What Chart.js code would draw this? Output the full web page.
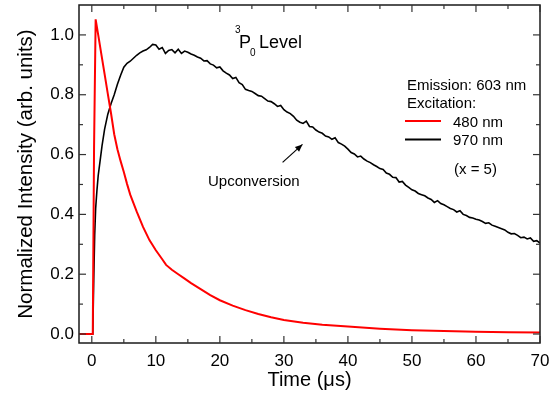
<!DOCTYPE html>
<html><head><meta charset="utf-8">
<script src="https://cdn.jsdelivr.net/npm/chart.js@4.4.1/dist/chart.umd.min.js"></script>
<style>html,body{margin:0;padding:0;background:#fff}#wrap{width:559px;height:398px}</style>
</head><body><div id="wrap"><canvas id="c" width="559" height="398"></canvas></div>
<script>
const FONT = '"Liberation Sans", Arial, Helvetica, sans-serif';
const seriesNames = ['480 nm', '970 nm'];
const seriesColors = ['#ff0000', '#000000'];
const time480 = [-2, 0.15, 0.35, 0.6, 1.0, 1.5, 2.0, 2.5, 3.0, 3.5, 4.0, 4.5, 5.0, 5.5, 6.0, 7.0, 8.0, 9.0, 10.0, 11.0, 11.6, 12.5, 13.5, 14.5, 15.5, 17, 18.5, 20, 22, 24, 26, 28, 30, 33, 36, 40, 45, 50, 55, 60, 65, 70];
const int480 = [0, 0, 0.62, 1.052, 1.0, 0.934, 0.869, 0.803, 0.738, 0.668, 0.618, 0.578, 0.542, 0.502, 0.466, 0.41, 0.358, 0.314, 0.28, 0.25, 0.231, 0.215, 0.2, 0.185, 0.17, 0.15, 0.13, 0.113, 0.095, 0.08, 0.067, 0.056, 0.047, 0.038, 0.031, 0.025, 0.018, 0.013, 0.01, 0.008, 0.006, 0.005];
const time970 = [-2, 0.15, 0.3, 0.45, 0.6, 0.8, 1.0, 1.3, 1.6, 2.0, 2.5, 3.0, 3.5, 4.0, 4.5, 5.0, 5.5, 6.0, 6.5, 7.0, 7.5, 8.0, 8.5, 9.0, 9.5,
 10, 10.5, 11, 11.5, 12, 12.5, 13, 13.5, 14, 14.5, 15, 15.5, 16, 16.5, 17, 17.5, 18, 18.5, 19, 19.5,
 20, 20.5, 21, 21.5, 22, 22.5, 23, 23.5, 24, 24.5, 25, 25.5, 26, 26.5, 27, 27.5, 28, 28.5, 29, 29.5,
 30, 30.5, 31, 31.5, 32, 32.5, 33, 33.5, 34, 34.5, 35, 35.5, 36, 36.5, 37, 37.5, 38, 38.5, 39, 39.5,
 40, 40.5, 41, 41.5, 42, 42.5, 43, 43.5, 44, 44.5, 45, 45.5, 46, 46.5, 47, 47.5, 48, 48.5, 49, 49.5,
 50, 50.5, 51, 51.5, 52, 52.5, 53, 53.5, 54, 54.5, 55, 55.5, 56, 56.5, 57, 57.5, 58, 58.5, 59, 59.5,
 60, 60.5, 61, 61.5, 62, 62.5, 63, 63.5, 64, 64.5, 65, 65.5, 66, 66.5, 67, 67.5, 68, 68.5, 69, 69.5, 70];
const int970 = [0, 0, 0.18, 0.33, 0.42, 0.48, 0.53, 0.58, 0.63, 0.685, 0.735, 0.77, 0.80, 0.835, 0.865, 0.892, 0.905, 0.912, 0.922, 0.932, 0.94, 0.946, 0.95, 0.958, 0.968,
 0.966, 0.952, 0.958, 0.938, 0.948, 0.951, 0.940, 0.952, 0.938, 0.946, 0.942, 0.936, 0.932, 0.926, 0.922, 0.913, 0.914, 0.903, 0.899, 0.890,
 0.893, 0.880, 0.872, 0.866, 0.854, 0.858, 0.840, 0.834, 0.818, 0.814, 0.811, 0.804, 0.797, 0.795, 0.787, 0.779, 0.777, 0.770, 0.761, 0.764,
 0.750, 0.742, 0.737, 0.728, 0.715, 0.708, 0.704, 0.712, 0.694, 0.692, 0.682, 0.675, 0.671, 0.662, 0.659, 0.651, 0.656, 0.640, 0.635, 0.628,
 0.618, 0.607, 0.602, 0.592, 0.595, 0.585, 0.578, 0.573, 0.566, 0.560, 0.553, 0.550, 0.538, 0.534, 0.524, 0.523, 0.508, 0.510, 0.498, 0.490,
 0.482, 0.478, 0.470, 0.466, 0.462, 0.455, 0.450, 0.440, 0.446, 0.436, 0.432, 0.426, 0.420, 0.416, 0.408, 0.412, 0.400, 0.396, 0.390, 0.388,
 0.384, 0.381, 0.376, 0.370, 0.372, 0.364, 0.360, 0.356, 0.352, 0.348, 0.340, 0.335, 0.336, 0.330, 0.322, 0.324, 0.318, 0.321, 0.310, 0.312, 0.304];
const xTicks = [0, 10, 20, 30, 40, 50, 60, 70];
const xMinor = [5, 15, 25, 35, 45, 55, 65];
const yTicks = [0, 0.2, 0.4, 0.6, 0.8, 1.0];
const yMinor = [0.1, 0.3, 0.5, 0.7, 0.9];
const xRange = [-2, 70];
const yRange = [-0.03, 1.10];
const arrowFrom = [29.8, 0.574];
const arrowTo = [32.9, 0.634];

const toPts = (t, v) => t.map((x, i) => ({x, y: v[i]}));

const decor = {
  id: 'decor',
  afterDraw(chart) {
    const {ctx, chartArea: a, scales: {x, y}} = chart;
    ctx.save();
    ctx.strokeStyle = '#1a1a1a';
    ctx.lineWidth = 1.5;
    ctx.strokeRect(a.left, a.top, a.right - a.left, a.bottom - a.top);
    ctx.lineWidth = 1.2;
    ctx.strokeStyle = '#333';
    const seg = (x1, y1, x2, y2) => { ctx.beginPath(); ctx.moveTo(x1, y1); ctx.lineTo(x2, y2); ctx.stroke(); };
    xTicks.forEach(v => { const p = x.getPixelForValue(v); seg(p, a.bottom, p, a.bottom - 7); seg(p, a.top, p, a.top + 7); });
    xMinor.forEach(v => { const p = x.getPixelForValue(v); seg(p, a.bottom, p, a.bottom - 4); seg(p, a.top, p, a.top + 4); });
    yTicks.forEach(v => { const p = y.getPixelForValue(v); seg(a.left, p, a.left + 7, p); seg(a.right, p, a.right - 7, p); });
    yMinor.forEach(v => { const p = y.getPixelForValue(v); seg(a.left, p, a.left + 4, p); seg(a.right, p, a.right - 4, p); });

    // title
    ctx.fillStyle = '#000';
    ctx.textBaseline = 'alphabetic';
    ctx.textAlign = 'left';
    ctx.font = '10px ' + FONT; ctx.fillText('3', 235, 33);
    ctx.font = '18px ' + FONT; ctx.fillText('P', 239, 48);
    ctx.font = '10px ' + FONT; ctx.fillText('0', 250, 56);
    ctx.font = '18px ' + FONT; ctx.fillText('Level', 259, 48);

    // legend
    ctx.font = '15px ' + FONT;
    ctx.fillText('Emission: 603 nm', 407, 90);
    ctx.fillText('Excitation:', 407, 108);
    ctx.fillText(seriesNames[0], 453, 126.5);
    ctx.fillText(seriesNames[1], 453, 145);
    ctx.fillText('(x = 5)', 454, 174);
    ctx.lineWidth = 2;
    ctx.strokeStyle = seriesColors[0]; seg(405, 121, 441, 121);
    ctx.strokeStyle = seriesColors[1]; seg(405, 139.5, 441, 139.5);

    // annotation
    ctx.fillText('Upconversion', 208, 186);
    const x1 = x.getPixelForValue(arrowFrom[0]), y1 = y.getPixelForValue(arrowFrom[1]);
    const x2 = x.getPixelForValue(arrowTo[0]), y2 = y.getPixelForValue(arrowTo[1]);
    ctx.strokeStyle = '#000'; ctx.lineWidth = 1.2;
    seg(x1, y1, x2, y2);
    const ang = Math.atan2(y2 - y1, x2 - x1), L = 8, W = 0.4;
    ctx.beginPath();
    ctx.moveTo(x2, y2);
    ctx.lineTo(x2 - L * Math.cos(ang - W), y2 - L * Math.sin(ang - W));
    ctx.lineTo(x2 - L * Math.cos(ang + W), y2 - L * Math.sin(ang + W));
    ctx.closePath(); ctx.fillStyle = '#000'; ctx.fill();
    ctx.restore();
  }
};

new Chart(document.getElementById('c'), {
  type: 'line',
  data: {
    datasets: [
      {label: seriesNames[0], data: toPts(time480, int480), borderColor: seriesColors[0], borderWidth: 2, pointRadius: 0, tension: 0, fill: false},
      {label: seriesNames[1], data: toPts(time970, int970), borderColor: seriesColors[1], borderWidth: 1.6, pointRadius: 0, tension: 0, fill: false}
    ]
  },
  options: {
    responsive: false,
    devicePixelRatio: 1,
    animation: false,
    layout: {padding: {left: 14, top: 5, right: 19, bottom: 6}},
    plugins: {legend: {display: false}, tooltip: {enabled: false}},
    scales: {
      x: {
        type: 'linear', position: 'bottom', min: xRange[0], max: xRange[1],
        afterBuildTicks: s => { s.ticks = xTicks.map(v => ({value: v})); },
        afterFit: s => { s.height = 49; s.paddingLeft = 0; s.paddingRight = 0; },
        grid: {display: false, drawTicks: false},
        border: {display: false},
        ticks: {font: {family: FONT, size: 17}, color: '#000', padding: 8, maxRotation: 0, autoSkip: false},
        title: {display: true, text: 'Time (\u03bcs)', font: {family: FONT, size: 20}, color: '#000', padding: 0}
      },
      y: {
        type: 'linear', position: 'left', min: yRange[0], max: yRange[1],
        afterBuildTicks: s => { s.ticks = yTicks.map(v => ({value: v})); },
        afterFit: s => { s.width = 65; s.paddingTop = 0; s.paddingBottom = 0; },
        grid: {display: false, drawTicks: false},
        border: {display: false},
        ticks: {font: {family: FONT, size: 17}, color: '#000', padding: 5, callback: v => v.toFixed(1), autoSkip: false},
        title: {display: true, text: 'Normalized Intensity (arb. units)', font: {family: FONT, size: 20.5}, color: '#000', padding: 0}
      }
    }
  },
  plugins: [decor]
});
</script></body></html>
